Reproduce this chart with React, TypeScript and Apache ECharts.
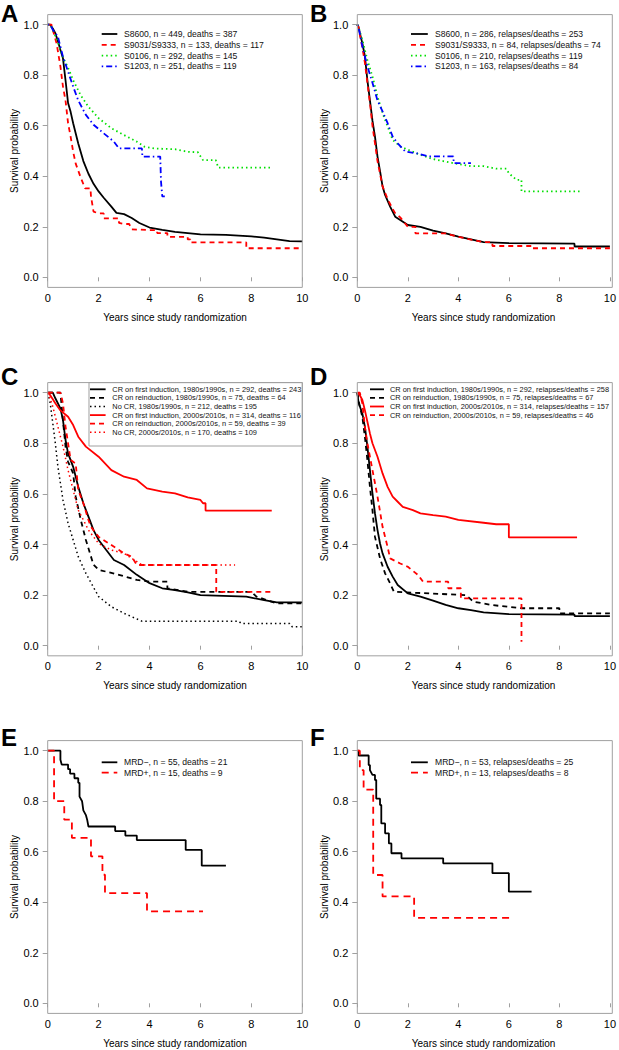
import React, { useEffect, useRef } from "react";
import * as echarts from "echarts";

type Pt = [number, number];

// ---------- Panel A: overall survival ----------
const aS8600: Pt[] = [[0,1],[0.1,1],[0.2,0.985],[0.3,0.966],[0.4,0.935],[0.5,0.9],[0.6,0.867],[0.7,0.78],[0.8,0.69],[0.9,0.655],[1.0,0.61],[1.2,0.53],[1.4,0.46],[1.6,0.41],[1.8,0.37],[2.0,0.34],[2.2,0.315],[2.5,0.28],[2.7,0.255],[3.0,0.25],[3.3,0.235],[3.6,0.215],[4.0,0.197],[4.5,0.188],[5.0,0.18],[6.0,0.17],[7.0,0.168],[8.0,0.162],[8.5,0.157],[9.0,0.15],[9.5,0.143],[10,0.142]];
const aS9031: Pt[] = [[0,1],[0.15,1],[0.2,0.98],[0.35,0.926],[0.5,0.834],[0.6,0.755],[0.7,0.7],[0.8,0.61],[0.9,0.557],[1.0,0.497],[1.1,0.45],[1.3,0.394],[1.47,0.352],[1.68,0.352],[1.7,0.32],[1.8,0.26],[2.0,0.253],[2.2,0.253],[2.2,0.233],[2.8,0.233],[2.8,0.215],[3.0,0.211],[3.2,0.211],[3.3,0.19],[4.0,0.187],[4.3,0.187],[4.3,0.175],[4.7,0.175],[4.7,0.16],[5.5,0.16],[5.5,0.15],[5.6,0.15],[5.6,0.138],[7.8,0.138],[7.8,0.115],[10,0.115]];
const aS0106: Pt[] = [[0,1],[0.1,1],[0.2,0.98],[0.4,0.93],[0.6,0.87],[0.8,0.83],[1.0,0.78],[1.3,0.72],[1.6,0.675],[2.0,0.63],[2.5,0.59],[3.0,0.563],[3.5,0.537],[3.8,0.517],[4.2,0.51],[5.0,0.507],[5.5,0.497],[5.9,0.495],[6.1,0.464],[6.6,0.464],[6.7,0.434],[8.8,0.434]];
const aS1203: Pt[] = [[0,1],[0.1,1],[0.2,0.98],[0.4,0.953],[0.6,0.873],[0.8,0.814],[1.0,0.755],[1.2,0.7],[1.5,0.643],[1.8,0.604],[2.2,0.57],[2.6,0.537],[2.8,0.51],[3.7,0.51],[3.72,0.478],[4.42,0.478],[4.45,0.38],[4.5,0.32],[4.6,0.32]];
const legendA = ["S8600, n = 449, deaths = 387", "S9031/S9333, n = 133, deaths = 117", "S0106, n = 292, deaths = 145", "S1203, n = 251, deaths = 119"];

// ---------- Panel B: relapse-free survival ----------
const bS8600: Pt[] = [[0,1],[0.05,0.99],[0.1,0.967],[0.2,0.927],[0.3,0.875],[0.4,0.78],[0.5,0.7],[0.6,0.62],[0.7,0.557],[0.8,0.478],[0.9,0.42],[1.0,0.36],[1.1,0.326],[1.3,0.28],[1.5,0.24],[1.7,0.227],[2.0,0.207],[2.5,0.2],[3.0,0.185],[3.5,0.174],[4.0,0.161],[4.5,0.15],[5.0,0.139],[6.0,0.135],[8.6,0.133],[8.6,0.122],[10,0.122]];
const bS9031: Pt[] = [[0,1],[0.05,0.99],[0.1,0.96],[0.2,0.91],[0.3,0.85],[0.4,0.77],[0.5,0.69],[0.6,0.6],[0.7,0.53],[0.8,0.46],[0.9,0.41],[1.0,0.36],[1.2,0.31],[1.4,0.27],[1.5,0.254],[1.7,0.237],[2.0,0.2],[2.3,0.2],[2.3,0.174],[3.5,0.174],[4.0,0.16],[5.0,0.139],[5.35,0.139],[5.35,0.124],[6.9,0.124],[6.9,0.115],[10,0.115]];
const bS0106: Pt[] = [[0,1],[0.05,0.99],[0.2,0.94],[0.4,0.86],[0.6,0.795],[0.8,0.716],[1.0,0.65],[1.2,0.597],[1.4,0.544],[1.7,0.518],[2.0,0.505],[2.5,0.485],[3.0,0.468],[3.8,0.452],[4.5,0.44],[5.0,0.44],[5.5,0.43],[5.9,0.43],[6.0,0.412],[6.3,0.386],[6.5,0.386],[6.5,0.34],[8.8,0.34]];
const bS1203: Pt[] = [[0,1],[0.05,0.99],[0.2,0.914],[0.4,0.835],[0.6,0.77],[0.8,0.7],[1.0,0.657],[1.2,0.61],[1.4,0.557],[1.6,0.53],[1.9,0.498],[2.4,0.49],[2.8,0.479],[3.8,0.479],[3.82,0.452],[4.5,0.452]];
const legendB = ["S8600, n = 286, relapses/deaths = 253", "S9031/S9333, n = 84, relapses/deaths = 74", "S0106, n = 210, relapses/deaths = 119", "S1203, n = 163, relapses/deaths = 84"];

// ---------- Panel C ----------
const cCr1Old: Pt[] = [[0,1],[0.2,1],[0.3,0.978],[0.5,0.938],[0.6,0.892],[0.7,0.813],[0.8,0.76],[1.0,0.707],[1.2,0.628],[1.4,0.563],[1.6,0.51],[1.8,0.457],[2.0,0.418],[2.3,0.378],[2.6,0.339],[3.0,0.319],[3.5,0.28],[4.0,0.247],[4.5,0.227],[5.0,0.22],[5.5,0.211],[6.0,0.2],[7.8,0.194],[8.5,0.18],[9.0,0.171],[10,0.171]];
const cReOld: Pt[] = [[0,1],[0.5,1],[0.6,0.89],[0.7,0.787],[0.8,0.727],[1.0,0.681],[1.1,0.589],[1.3,0.497],[1.5,0.418],[1.7,0.352],[1.8,0.32],[2.0,0.3],[2.8,0.28],[3.5,0.26],[4.0,0.253],[4.7,0.253],[4.7,0.227],[5.5,0.213],[8.0,0.213],[8.2,0.194],[9.0,0.167],[10,0.167]];
const cNoOld: Pt[] = [[0,1],[0.1,0.958],[0.2,0.879],[0.3,0.8],[0.4,0.708],[0.5,0.642],[0.6,0.576],[0.8,0.484],[1.0,0.418],[1.2,0.352],[1.5,0.286],[2.0,0.194],[2.5,0.154],[3.0,0.128],[3.7,0.097],[7.5,0.097],[7.6,0.088],[9.5,0.088],[9.6,0.075],[10,0.075]];
const cCr1New: Pt[] = [[0,1],[0.1,0.99],[0.3,0.958],[0.5,0.93],[0.8,0.905],[1.0,0.872],[1.2,0.826],[1.5,0.787],[2.0,0.747],[2.5,0.694],[3.0,0.668],[3.5,0.655],[3.9,0.622],[4.5,0.609],[5.0,0.602],[5.5,0.586],[6.0,0.576],[6.1,0.563],[6.2,0.563],[6.2,0.534],[8.8,0.534]];
const cReNew: Pt[] = [[0,1],[0.5,1],[0.6,0.958],[0.7,0.866],[0.9,0.734],[1.1,0.72],[1.2,0.615],[1.4,0.563],[1.6,0.497],[1.7,0.47],[2.0,0.43],[2.5,0.398],[3.0,0.365],[3.3,0.352],[3.5,0.319],[6.62,0.319],[6.62,0.213],[8.8,0.213]];
const cNoNew: Pt[] = [[0,1],[0.05,0.99],[0.2,0.945],[0.4,0.866],[0.6,0.787],[0.8,0.694],[1.0,0.615],[1.2,0.536],[1.4,0.497],[1.6,0.457],[2.0,0.404],[2.5,0.378],[3.0,0.365],[3.4,0.339],[3.6,0.326],[3.7,0.319],[7.36,0.319]];
const legendC = ["CR on first induction, 1980s/1990s, n = 292, deaths = 243", "CR on reinduction, 1980s/1990s, n = 75, deaths = 64", "No CR, 1980s/1990s, n = 212, deaths = 195", "CR on first induction, 2000s/2010s, n = 314, deaths = 116", "CR on reinduction, 2000s/2010s, n = 59, deaths = 39", "No CR, 2000s/2010s, n = 170, deaths = 109"];

// ---------- Panel D ----------
const dCr1Old: Pt[] = [[0,1],[0.05,0.96],[0.2,0.918],[0.3,0.866],[0.4,0.787],[0.5,0.694],[0.6,0.602],[0.7,0.523],[0.8,0.457],[0.9,0.404],[1.0,0.365],[1.2,0.312],[1.4,0.273],[1.6,0.24],[2.0,0.207],[2.5,0.194],[3.0,0.178],[3.5,0.161],[4.0,0.148],[4.5,0.141],[5.0,0.132],[6.0,0.125],[8.6,0.123],[8.6,0.117],[10,0.117]];
const dReOld: Pt[] = [[0,1],[0.05,0.97],[0.1,0.945],[0.2,0.905],[0.3,0.826],[0.4,0.734],[0.5,0.628],[0.6,0.536],[0.7,0.43],[0.9,0.345],[1.1,0.286],[1.3,0.246],[1.45,0.213],[4.3,0.2],[4.6,0.174],[5.3,0.161],[6.5,0.148],[8.0,0.148],[8.0,0.128],[10,0.128]];
const dCr1New: Pt[] = [[0,1],[0.1,0.99],[0.2,0.971],[0.3,0.931],[0.4,0.885],[0.5,0.839],[0.6,0.8],[0.8,0.747],[1.0,0.681],[1.2,0.628],[1.4,0.589],[1.6,0.569],[1.8,0.549],[2.2,0.536],[2.5,0.523],[3.0,0.516],[3.5,0.51],[4.0,0.497],[5.0,0.486],[5.5,0.48],[6.0,0.48],[6.0,0.428],[8.7,0.428]];
const dReNew: Pt[] = [[0,1],[0.1,1],[0.2,0.958],[0.3,0.866],[0.4,0.8],[0.5,0.747],[0.7,0.642],[0.8,0.589],[0.9,0.53],[1.0,0.47],[1.2,0.39],[1.3,0.345],[1.7,0.325],[2.0,0.312],[2.4,0.28],[2.6,0.253],[3.6,0.253],[3.6,0.227],[4.1,0.227],[4.1,0.187],[6.5,0.187],[6.5,0.016]];
const legendD = ["CR on first induction, 1980s/1990s, n = 292, relapses/deaths = 258", "CR on reinduction, 1980s/1990s, n = 75, relapses/deaths = 67", "CR on first induction, 2000s/2010s, n = 314, relapses/deaths = 157", "CR on reinduction, 2000s/2010s, n = 59, relapses/deaths = 46"];

// ---------- Panel E ----------
const eNeg: Pt[] = [[0,1],[0.5,1],[0.5,0.964],[0.55,0.945],[0.8,0.945],[0.8,0.927],[0.88,0.927],[0.88,0.909],[1.05,0.909],[1.05,0.891],[1.2,0.891],[1.2,0.873],[1.25,0.873],[1.25,0.818],[1.35,0.8],[1.4,0.764],[1.5,0.745],[1.55,0.727],[1.6,0.7],[2.65,0.7],[2.65,0.682],[3.05,0.682],[3.05,0.664],[3.5,0.664],[3.5,0.646],[5.42,0.646],[5.42,0.607],[6.05,0.607],[6.05,0.545],[7.0,0.545]];
const ePos: Pt[] = [[0,1],[0.25,1],[0.25,0.8],[0.65,0.8],[0.65,0.727],[0.95,0.727],[0.95,0.655],[1.7,0.655],[1.7,0.582],[2.15,0.582],[2.15,0.509],[2.25,0.509],[2.25,0.436],[3.9,0.436],[3.9,0.364],[6.1,0.364]];
const legendE = ["MRD−, n = 55, deaths = 21", "MRD+, n = 15, deaths = 9"];

// ---------- Panel F ----------
const fNeg: Pt[] = [[0,1],[0.05,1],[0.05,0.981],[0.45,0.981],[0.45,0.943],[0.5,0.943],[0.5,0.923],[0.6,0.904],[0.7,0.904],[0.7,0.884],[0.75,0.884],[0.75,0.81],[0.9,0.81],[0.9,0.785],[0.95,0.785],[0.95,0.712],[1.1,0.712],[1.1,0.673],[1.25,0.673],[1.25,0.633],[1.35,0.633],[1.35,0.594],[1.75,0.594],[1.75,0.574],[3.4,0.574],[3.4,0.554],[5.35,0.554],[5.35,0.515],[6.0,0.515],[6.0,0.442],[6.9,0.442]];
const fPos: Pt[] = [[0,1],[0.1,1],[0.1,0.923],[0.25,0.923],[0.25,0.846],[0.63,0.846],[0.63,0.508],[1.0,0.508],[1.0,0.423],[2.25,0.423],[2.25,0.338],[6.2,0.338]];
const legendF = ["MRD−, n = 53, relapses/deaths = 25", "MRD+, n = 13, relapses/deaths = 8"];

const panelLabels = ["A", "B", "C", "D", "E", "F"];
const yTitle = "Survival probability";
const xTitle = "Years since study randomization";

// ---------- styles / layout ----------
const FONT = "'Liberation Sans', Arial, Helvetica, sans-serif";
const GRAY = "#a0a0a0";
const BLACK = "#000000";
const RED = "#ff0000";
const GREEN = "#00e000";
const BLUE = "#0000ff";
const SOLID: number[] | null = null;
const DASH = [5, 4];
const DOT = [1.5, 3];
const DOTDASH = [1.5, 3, 6, 3];
const LDASH = [7, 5];

type Curve = { data: Pt[]; color: string; dash: number[] | null; width: number };
type Panel = {
  label: string;
  col: number;
  row: number;
  curves: Curve[];
  legend: string[];
  lineX: number;
  textX: number;
  legY: number;
  legDy: number;
  legFont: number;
  legBox?: [number, number, number, number];
};

const COLS = [{ left: 47.7, right: 302.3 }, { left: 357.3, right: 612.3 }];
const ROWS = [{ top: 24.7, bottom: 277.3 }, { top: 392.7, bottom: 645.7 }, { top: 750.7, bottom: 1003.3 }];

const W = 1.8;
const panels: Panel[] = [
  { label: panelLabels[0], col: 0, row: 0, legend: legendA, lineX: 101.7, textX: 124, legY: 34, legDy: 10.8, legFont: 8.6,
    curves: [
      { data: aS8600, color: BLACK, dash: SOLID, width: W },
      { data: aS9031, color: RED, dash: DASH, width: W },
      { data: aS0106, color: GREEN, dash: DOT, width: W },
      { data: aS1203, color: BLUE, dash: DOTDASH, width: W },
    ] },
  { label: panelLabels[1], col: 1, row: 0, legend: legendB, lineX: 411, textX: 435, legY: 34, legDy: 10.8, legFont: 8.6,
    curves: [
      { data: bS8600, color: BLACK, dash: SOLID, width: W },
      { data: bS9031, color: RED, dash: DASH, width: W },
      { data: bS0106, color: GREEN, dash: DOT, width: W },
      { data: bS1203, color: BLUE, dash: DOTDASH, width: W },
    ] },
  { label: panelLabels[2], col: 0, row: 1, legend: legendC, lineX: 90, textX: 112.3, legY: 389.3, legDy: 8.6, legFont: 7.4,
    legBox: [89, 382.6, 302.3, 446],
    curves: [
      { data: cCr1Old, color: BLACK, dash: SOLID, width: W },
      { data: cReOld, color: BLACK, dash: DASH, width: W },
      { data: cNoOld, color: BLACK, dash: DOT, width: 1.5 },
      { data: cCr1New, color: RED, dash: SOLID, width: W },
      { data: cReNew, color: RED, dash: DASH, width: W },
      { data: cNoNew, color: RED, dash: DOT, width: 1.5 },
    ] },
  { label: panelLabels[3], col: 1, row: 1, legend: legendD, lineX: 370, textX: 390, legY: 389.3, legDy: 8.6, legFont: 7.4,
    curves: [
      { data: dCr1Old, color: BLACK, dash: SOLID, width: W },
      { data: dReOld, color: BLACK, dash: DASH, width: W },
      { data: dCr1New, color: RED, dash: SOLID, width: W },
      { data: dReNew, color: RED, dash: DASH, width: W },
    ] },
  { label: panelLabels[4], col: 0, row: 2, legend: legendE, lineX: 101.7, textX: 124, legY: 762.3, legDy: 10.4, legFont: 8.6,
    curves: [
      { data: eNeg, color: BLACK, dash: SOLID, width: W },
      { data: ePos, color: RED, dash: LDASH, width: W },
    ] },
  { label: panelLabels[5], col: 1, row: 2, legend: legendF, lineX: 411, textX: 435, legY: 762.3, legDy: 10.4, legFont: 8.6,
    curves: [
      { data: fNeg, color: BLACK, dash: SOLID, width: W },
      { data: fPos, color: RED, dash: LDASH, width: W },
    ] },
];

function buildOption() {
  const grid: any[] = [];
  const xAxis: any[] = [];
  const yAxis: any[] = [];
  const series: any[] = [];
  const graphic: any[] = [];

  panels.forEach((p, i) => {
    const c = COLS[p.col];
    const r = ROWS[p.row];
    const w = c.right - c.left;
    const h = r.bottom - r.top;
    const pad = 0.04 * h;
    grid.push({ left: c.left, top: r.top, width: w, height: h, show: false });
    xAxis.push({
      gridIndex: i, type: "value", min: 0, max: 10, interval: 2, offset: pad,
      axisLine: { show: false },
      axisTick: { show: true, length: 4, lineStyle: { color: GRAY, width: 1 } },
      axisLabel: { margin: 5, fontSize: 11, color: "#000", fontFamily: FONT },
      splitLine: { show: false },
      name: xTitle, nameLocation: "middle", nameGap: 25,
      nameTextStyle: { fontSize: 10, color: "#000", fontFamily: FONT },
    });
    yAxis.push({
      gridIndex: i, type: "value", min: 0, max: 1, interval: 0.2,
      axisLine: { show: false },
      axisTick: { show: true, length: 5, lineStyle: { color: GRAY, width: 1 } },
      axisLabel: { margin: 9, fontSize: 11, color: "#000", fontFamily: FONT, formatter: (v: number) => v.toFixed(1) },
      splitLine: { show: false },
      name: yTitle, nameLocation: "middle", nameGap: 27,
      nameTextStyle: { fontSize: 10, color: "#000", fontFamily: FONT },
    });
    p.curves.forEach((cv, k) => {
      series.push({
        type: "line", name: p.legend[k], xAxisIndex: i, yAxisIndex: i, data: cv.data,
        showSymbol: false, symbol: "none", clip: false, silent: true,
        lineStyle: { color: cv.color, width: cv.width, type: cv.dash ? cv.dash : "solid" },
      });
    });
    // box
    graphic.push({
      type: "rect", z: 5, silent: true,
      shape: { x: c.left, y: r.top - pad, width: w, height: h + 2 * pad },
      style: { fill: "none", stroke: GRAY, lineWidth: 1 },
    });
    if (p.legBox) {
      const [x1, y1, x2, y2] = p.legBox;
      graphic.push({
        type: "rect", z: 5, silent: true,
        shape: { x: x1, y: y1, width: x2 - x1, height: y2 - y1 },
        style: { fill: "none", stroke: GRAY, lineWidth: 1 },
      });
    }
    // legend
    p.legend.forEach((txt, k) => {
      const cv = p.curves[k];
      const y = p.legY + k * p.legDy;
      graphic.push({
        type: "line", z: 6, silent: true,
        shape: { x1: p.lineX, y1: y, x2: p.lineX + (p.textX - p.lineX) * 0.7, y2: y },
        style: { stroke: cv.color, lineWidth: cv.width, lineDash: cv.dash ? cv.dash : null },
      });
      graphic.push({
        type: "text", z: 6, silent: true, x: p.textX, y,
        style: { text: txt, fontSize: p.legFont, fontFamily: FONT, fill: "#111", align: "left", verticalAlign: "middle" },
      });
    });
    // panel letter
    const labelX = p.col === 0 ? 1 : 310;
    const labelY = [13.5, 376, 737][p.row];
    graphic.push({
      type: "text", z: 6, silent: true, x: labelX, y: labelY,
      style: { text: p.label, fontSize: 24, fontWeight: "bold", fontFamily: FONT, fill: "#000", align: "left", verticalAlign: "middle" },
    });
  });

  return { animation: false, backgroundColor: "#ffffff", grid, xAxis, yAxis, series, graphic };
}

export default function App() {
  const ref = useRef<HTMLDivElement>(null);
  useEffect(() => {
    if (!ref.current) return;
    const chart = echarts.init(ref.current, undefined, { renderer: "svg" });
    chart.setOption(buildOption() as any);
    return () => chart.dispose();
  }, []);
  return (
    <div
      ref={ref}
      style={{ position: "absolute", left: 0, top: 0, width: 619, height: 1050, background: "#fff" }}
    />
  );
}
